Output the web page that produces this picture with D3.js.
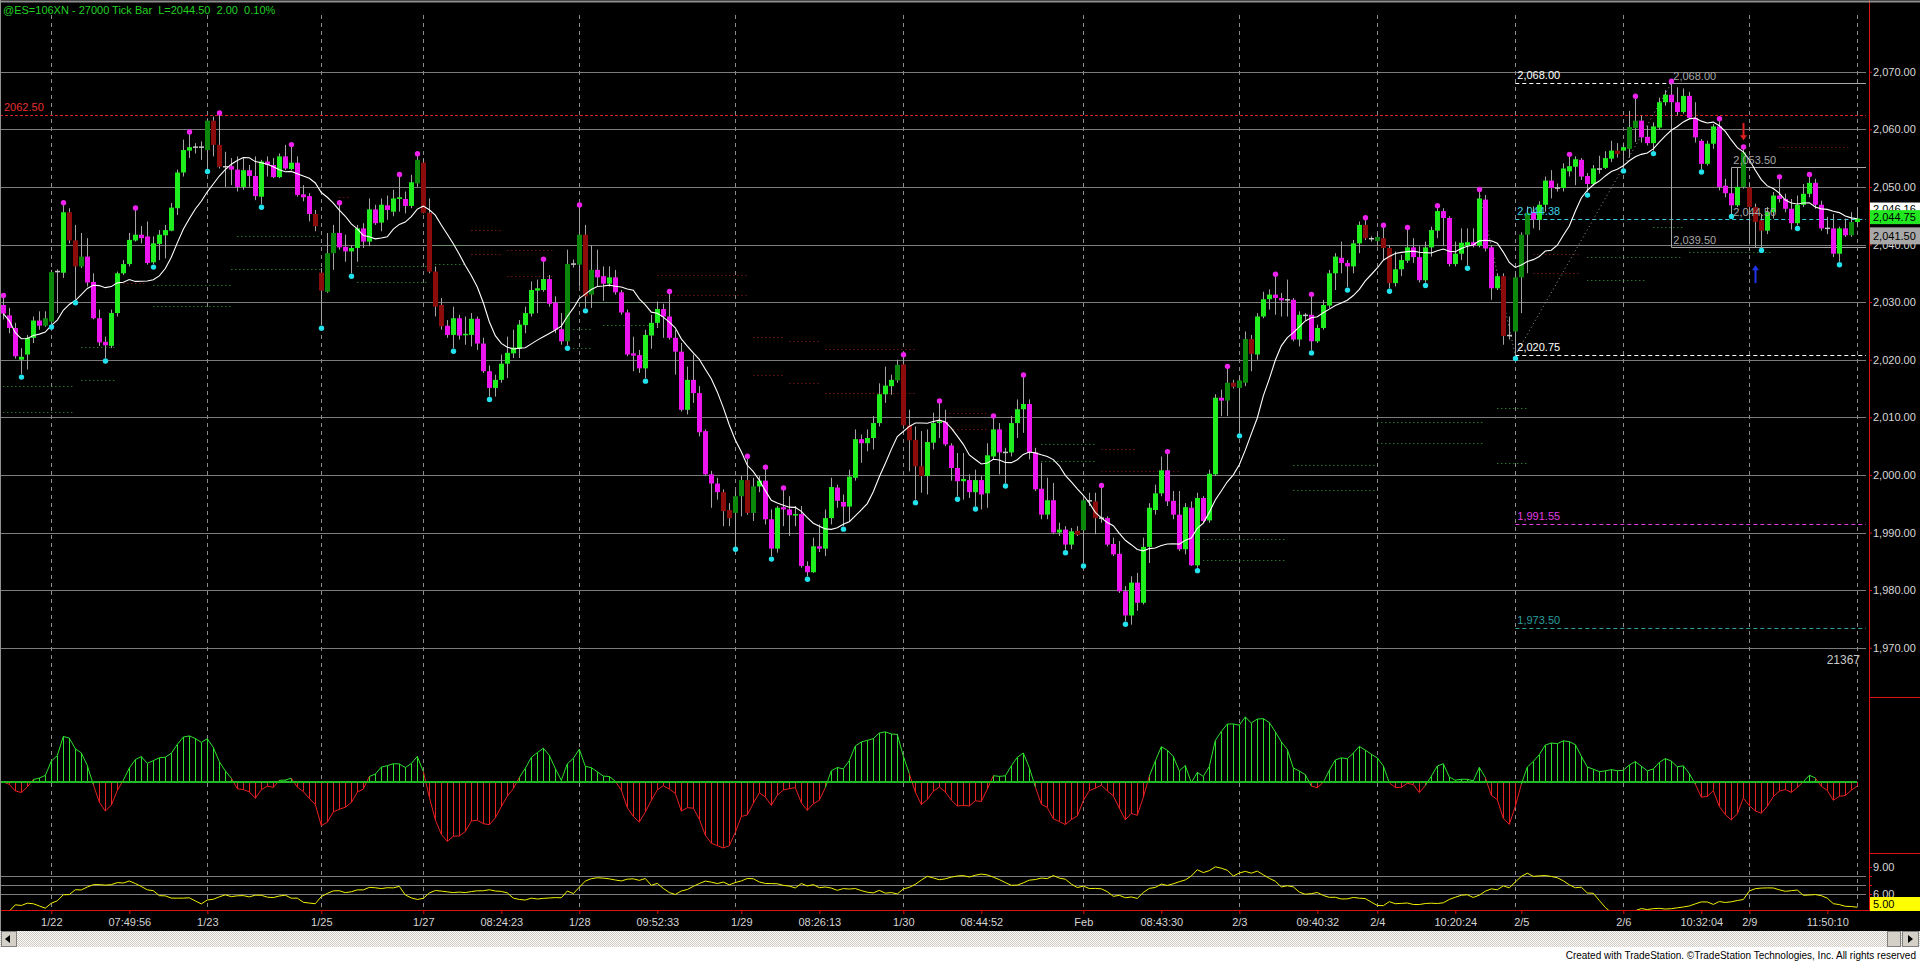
<!DOCTYPE html>
<html>
<head>
<meta charset="utf-8">
<script src="https://cdn.jsdelivr.net/npm/d3@7"></script>
<style>
html, body { margin: 0; padding: 0; background: #fff; overflow: hidden; }
svg { display: block; font-family: "Liberation Sans", Arial, sans-serif; }
</style>
</head>
<body>
<div id="chart"></div>
<script>
// 27000 tick bars (bar 1 = left edge)
var opens = [
  2029.5,2027.7,2025.5,2020,2020.9,2023.8,2026.8,2025.9,2026.6,2035.3,
  2035.1,2045.6,2040.7,2036.2,2037.9,2033.5,2027.2,2023.1,2022.4,2028.1,
  2035,2036.6,2040.7,2041.7,2041.4,2036.9,2040.1,2041.6,2042.4,2046.3,
  2052.5,2056.3,2056.9,2056.9,2056.4,2061.5,2057.3,2053.5,2053.6,2053,
  2050,2052.9,2051.9,2048.3,2054.4,2053.8,2051.7,2055.3,2053.1,2054.2,
  2048.7,2048.4,2045.3,2035.1,2031.8,2038.5,2042,2039.6,2038.8,2039.4,
  2042.8,2040.5,2046.1,2043.8,2046.8,2045.7,2047.9,2047.9,2046.7,2050.6,
  2054.2,2045.5,2035.3,2029.5,2025.9,2024.3,2027.2,2024.3,2024.3,2027.1,
  2022.8,2018,2015.1,2016.5,2019.3,2021.1,2021.9,2026,2028,2032,
  2032.1,2034,2029.9,2025.3,2023.2,2036.6,2036.5,2041.7,2031.3,2035.6,
  2034.5,2033.2,2034.3,2031.7,2028.2,2021.1,2020.8,2018.5,2024.2,2026.4,
  2028.8,2027.5,2023.8,2021.4,2011.3,2016.5,2014.2,2007.6,2000.1,1998.5,
  1997,1993.9,1993.4,1996.3,1999.1,1993.4,1998,1999,1992.3,1987.2,
  1994.4,1994,1993,1993.2,1984.2,1983.1,1987.6,1987.2,1992.5,1997.8,
  1995.3,1994.5,1999.5,2006.2,2005.5,2006.4,2009,2014,2015.4,2016.4,
  2019.2,2008.6,2006.1,2001.5,1999.8,2005.6,2009,2009.2,2005.1,2001.2,
  1998.9,1999.1,1997,1999.1,1996.8,2003.2,2007.9,2003.9,2003.9,2009,
  2011.4,2012.3,2003.9,1997.6,1993.1,1995.6,1990,1990.5,1987.9,1990.3,
  1990.4,1995.5,1995.4,1992.5,1992.5,1988,1986.3,1979.8,1975.6,1981.3,
  1977.8,1987.5,1993.9,1996.8,2000.8,1995.5,1993.1,1987.1,1994.3,1984.3,
  1996,1992.1,2000.1,2013.4,2012.9,2016,2015.1,2016,2023.6,2020.9,
  2027.5,2030.5,2031.3,2030.7,2030.4,2030.4,2023.5,2027.7,2027.8,2023.2,
  2025.5,2029.4,2035,2037.7,2036.8,2036.2,2040.2,2043.4,2041,2040.6,
  2041.1,2039.4,2033.3,2035.7,2037.2,2039.5,2037.8,2033.8,2039.5,2042.4,
  2045.8,2044.6,2036.6,2038.4,2039.8,2040.4,2039.8,2047.8,2039.5,2032.4,
  2034.5,2024.2,2024.9,2034.3,2041.7,2045.7,2044.3,2046.9,2051.1,2049.8,
  2049.8,2052.7,2053.5,2054.7,2051.9,2050.5,2053.1,2053.3,2054.9,2056.3,
  2056.3,2056.6,2060.2,2061.5,2058.7,2057.6,2060.3,2064.7,2066,2064.7,
  2063,2065.8,2062,2058,2054,2057.5,2060.5,2050.2,2048.9,2046.8,
  2050,2049.9,2046.5,2044.2,2042.4,2045.6,2048.5,2047.9,2046.2,2043.7,
  2046.9,2048.8,2050.7,2046.9,2042.8,2042.8,2038.4,2042.8,2041.6,2043.9
];
var highs = [
  2030.8,2029,2026.4,2022,2024.3,2027.5,2028.4,2028.4,2035.6,2035.7,
  2046.9,2046.3,2043.4,2042,2041.1,2035,2028.7,2024,2028.7,2035.3,
  2037.3,2042,2046,2043.2,2044,2041.4,2042.5,2043.4,2047.2,2053,
  2058.2,2059.2,2057.6,2057.9,2061.9,2062.2,2062.5,2056.1,2055,2055.3,
  2055,2053.8,2055.3,2054.7,2055.3,2055,2055.8,2057.3,2057,2055.3,
  2050.3,2048.9,2046,2035.9,2042,2043.4,2046.9,2041.7,2039.9,2043.4,
  2043.7,2048,2046.9,2048,2048.5,2049.5,2051.8,2049.2,2052.1,2055.4,
  2055,2048,2036.2,2030.7,2026.9,2029.2,2027.8,2027.5,2028.1,2027.5,
  2023.8,2019,2017.4,2020.9,2024,2025.2,2026.9,2029.2,2033.6,2033.9,
  2037.1,2034.7,2031,2028.1,2039.1,2037.4,2046.5,2043.4,2039.9,2039.1,
  2036.2,2036.2,2035.6,2032.1,2028.7,2024,2021.7,2025.2,2027.8,2030.1,
  2029.7,2031.5,2025.2,2022.9,2018.8,2020.9,2015.4,2007.9,2000.7,1999.5,
  1997.5,1995.1,1997.2,1999.8,2002.9,1999.5,1999.8,2001,1994,1994.6,
  1997.4,1996.3,1994.6,1994.6,1985,1989.1,1991.4,1994,1999.5,1998.3,
  1996.6,2000.9,2007.9,2007,2007.9,2010.2,2015.9,2018.8,2017.4,2020,
  2020.5,2011.3,2008.4,2007.6,2007.9,2010.8,2012.5,2011.3,2005.5,2003.8,
  2003.8,2000.1,2000.9,1999.8,2005.5,2009.9,2009,2004.7,2010.2,2013.1,
  2017,2013.1,2004.7,2002.1,1999.5,1998.6,1991.7,1991.1,1990.8,1991.1,
  1995.9,1996.9,1996.9,1997.8,1992.8,1989.1,1988.5,1980.7,1982.4,1983,
  1989.1,1995.1,1998.3,2003.2,2003.7,1997.2,1997.2,1995.1,1995.4,1996.9,
  1996.3,2000.9,2014,2014.8,2018.5,2016.5,2017.1,2024.9,2024.3,2028.1,
  2031.8,2032.2,2034.5,2031.6,2033.9,2030.7,2028.4,2028.1,2031,2026.1,
  2030.4,2035.6,2038.5,2040.5,2037.3,2040.8,2044,2044.3,2041.4,2042,
  2043,2039.9,2038.8,2038.2,2042.6,2041.1,2039.7,2040.5,2043.1,2046.4,
  2046.3,2044.9,2040.5,2042.8,2042.8,2042.8,2049.2,2048.6,2039.9,2035,
  2035,2027.5,2035,2042.1,2046.6,2046.6,2047.5,2051.8,2052.9,2050.6,
  2054.1,2055.3,2055.3,2055,2052.4,2053.8,2055.4,2056.2,2058,2057.6,
  2057.7,2063.2,2065.4,2062.4,2060.6,2061.2,2065.5,2066.8,2068,2067.3,
  2067.1,2066.5,2064.7,2058.3,2058,2060.9,2061.5,2051.4,2049.9,2053.4,
  2056.6,2050.8,2047.1,2045.3,2046.5,2049.1,2051.4,2048.8,2047.9,2048.5,
  2050.5,2051.8,2051.4,2047.6,2044.8,2045.3,2043.1,2044.5,2045.6,2046.5
];
var lows = [
  2027,2024.6,2020.2,2017.5,2018.3,2022.9,2025.2,2025.7,2026.2,2028.1,
  2034.2,2040.2,2030.4,2035.9,2032.7,2027,2022.4,2020.3,2022,2027.5,
  2034.7,2036.2,2040.5,2040.2,2036.5,2036.6,2037.3,2037.6,2042.3,2045.1,
  2051.8,2055,2055.8,2054.7,2053.2,2055.3,2053.2,2050,2050.3,2049.2,
  2049.5,2050,2047.7,2047,2051.8,2051.5,2051.5,2052.9,2052.9,2048.3,
  2047.5,2044,2042.3,2026,2031.6,2035.6,2039.1,2037,2035,2037,
  2039.4,2039.7,2043.4,2042.3,2044.3,2044.9,2045.7,2045.4,2046.3,2050,
  2045.4,2035,2027.5,2025.2,2023.8,2022,2023.5,2022.6,2022.3,2021.7,
  2017.7,2013.6,2013.6,2016,2016.8,2020.3,2020.3,2024.6,2027.5,2028.1,
  2031.8,2029.2,2024.6,2022.6,2022.5,2036,2032.7,2029,2029,2032.7,
  2030.2,2032.7,2031.3,2027.8,2020.6,2018,2017.7,2016.8,2021.9,2025.5,
  2023.8,2023.5,2017.4,2011,2010.5,2012.5,2006.7,1999.8,1994.3,1995.7,
  1991.1,1991.1,1987.6,1992.8,1993.1,1992,1997,1991.4,1985.9,1986.5,
  1991.1,1989.4,1991.1,1983.9,1982.4,1983,1986.6,1985.9,1991.4,1994.3,
  1991.1,1992,1999,2002.1,2004.1,2004.4,2008.4,2012.5,2013.9,2016,
  2008,2000.6,1995.7,1996.9,1996.6,2004.4,2006.4,2005,1999,1996.3,
  1995.7,1996,1994.6,1994,1994.3,2002.7,2000.1,1998.6,2003.2,2006.4,
  2007.3,2002.7,1997.2,1992.3,1992.3,1989.7,1989.4,1987,1987.1,1989.4,
  1984.7,1994.6,1989.7,1991.7,1987.6,1985.9,1979.5,1974.6,1974,1976.4,
  1977.5,1984.7,1993.1,1996.3,1994.6,1992.3,1986.8,1986.2,1984.2,1983.9,
  1991.7,1991.7,1999.8,2010.2,2010.2,2015,2007.3,2015.4,2018,2020,
  2027.2,2028.7,2027.8,2027.5,2027.5,2023.2,2022.3,2026.9,2021.7,2022.9,
  2025.2,2029,2032.1,2035,2032.6,2035,2038.5,2040.8,2040.5,2039.7,
  2037.3,2032.4,2032.7,2034.5,2036.8,2036.8,2033.4,2033.4,2037.9,2041.1,
  2039.7,2036.2,2036.2,2037.3,2036.4,2039.5,2039.5,2038.8,2030.4,2032.1,
  2022.6,2023.5,2020.75,2028.1,2035,2042.8,2042.5,2045.7,2048,2049.2,
  2049.2,2051.8,2050.3,2051.2,2049.1,2050.2,2052.3,2053.1,2054.3,2055.1,
  2053.3,2055.1,2057.8,2057.7,2057.2,2056.3,2060,2064.1,2064.1,2062.4,
  2062.7,2061.8,2057.7,2053.1,2053.7,2056.6,2049.4,2048.2,2045.4,2046.5,
  2049.7,2040,2039.5,2039.5,2041.8,2044.5,2047.3,2045.6,2042.6,2043.3,
  2046.5,2048.2,2046.2,2042.4,2041.8,2037.8,2037,2041.3,2041.3,2043
];
var closes = [
  2028,2025.5,2020.6,2020.5,2023.8,2026.8,2025.9,2027.2,2035.2,2035.3,
  2045.6,2040.7,2036.2,2037.9,2033.4,2027.2,2023,2022.5,2028.1,2035,
  2036.6,2040.8,2041.7,2041.1,2036.8,2040.2,2041.7,2042.5,2046.4,2052.5,
  2056.4,2056.9,2056.9,2056.9,2061.5,2057.3,2053.5,2053.5,2053,2050,
  2052.9,2051.9,2048.4,2054.4,2053.8,2051.7,2055.3,2053.2,2054.2,2048.6,
  2048.2,2045.3,2043.2,2032,2038.5,2042,2039.5,2038.8,2039.4,2042.8,
  2040.5,2046.1,2043.7,2046.9,2046,2048,2048.2,2046.7,2050.8,2054.7,
  2045.5,2035.3,2029.2,2025.8,2024.3,2027.2,2024.2,2024.5,2027.1,2022.8,
  2018,2015.1,2016.5,2019.3,2021.2,2022.1,2026.1,2028.1,2032.1,2032.4,
  2034,2029.7,2025.2,2023.2,2036.6,2036.6,2041.7,2031,2035.6,2034.3,
  2033.2,2034.3,2031.7,2028.2,2020.9,2020.7,2018.5,2024.3,2026.4,2028.8,
  2027.5,2023.8,2021.4,2011.3,2016.5,2014.2,2007.4,2000.1,1998.5,1997,
  1993.7,1992.5,1996.3,1999.1,1993.4,1998,1999,1992.3,1987.2,1994.3,
  1994,1993,1993.2,1984.2,1983.1,1987.6,1987.2,1992.5,1997.9,1995.5,
  1994.5,1999.7,2006.2,2005.5,2006.4,2009,2014,2015.5,2016.5,2019.1,
  2008.6,2006,2001.5,1999.8,2005.7,2009,2009.3,2005.3,2001.2,1998.9,
  1999.3,1997,1999.1,1996.6,2003.4,2007.9,2003.9,2003.9,2009,2011.4,
  2012.3,2003.9,1997.5,1993.1,1995.6,1990,1990.5,1987.9,1990.2,1989.6,
  1995.6,1995.5,1992.5,1992.5,1987.9,1986.2,1979.8,1975.6,1981.3,1977.8,
  1987.5,1994.3,1996.8,2000.8,1995.4,1993.1,1987.1,1994.4,1984.3,1996,
  1992,2000.2,2013.4,2012.9,2016,2015.3,2016.4,2023.6,2021,2027.5,
  2030.5,2031.3,2030.7,2030.3,2030.4,2023.5,2027.8,2027.7,2023.2,2025.5,
  2029.5,2035,2037.9,2036.8,2036.2,2040.2,2043.4,2041.1,2041,2041.3,
  2039.4,2033.3,2035.7,2037.3,2039.5,2037.8,2033.8,2039.5,2042.5,2045.8,
  2044.6,2036.6,2038.4,2040.3,2040.4,2039.8,2048,2039.3,2032.4,2034.5,
  2024.1,2024.2,2034.3,2041.7,2045.5,2044.3,2046.9,2051.1,2049.8,2049.8,
  2053.2,2053.6,2054.8,2051.8,2050.5,2053.2,2053.1,2055,2056.3,2055.7,
  2056.9,2060.4,2061.5,2058.6,2057.6,2060.5,2064.7,2066,2064.7,2063,
  2065.8,2062,2058.6,2054,2057.5,2060.5,2050,2048.9,2046.8,2050,
  2056,2046.5,2043.9,2042.4,2045.6,2048.5,2047.9,2046.2,2043.7,2046.9,
  2048.8,2050.7,2046.9,2042.8,2042.8,2038.4,2042.8,2041.6,2043.9,2044.5
];
// paint-bar colour code: G bright green, g dark green, M magenta, r dark red, d doji
var tones = (
  'MMMGGGMggd' + 'GrrgMMMMGG' + 'GGGMMGGGGG' + 'GGddgrrdMM' + 'GMMGMMGMGM' +
  'MMrrggMMGG' + 'MGMGMGGMGg' + 'rrrrMGMGGM' + 'MMGGGGGGGG' + 'GMMMgdgrgM' +
  'MGMMMMMGGG' + 'MMMMGMMMMM' + 'rrggrgGMMG' + 'MMGMMGMGGM' + 'MGGMGGGGGg' +
  'rrrrGGGMMM' + 'GMGMGGMdGG' + 'GMMMGMGMGr' + 'gdrdMMMMGM' + 'GGGGMMMGMG' +
  'MGGMgrggrG' + 'GGMMdMGdMG' + 'GGGMMGGrdg' + 'rrGGGMMGGG' + 'MMGGGMGMMG' +
  'rdgggMGGMd' + 'GGGMMGdGGr' + 'GggMMGGGMM' + 'GMMMGGMMMG' + 'grrrGGMMMG' +
  'GGMMdMGMgG').split('');

var swingHighIdx = [0,10,22,31,36,48,56,66,69,90,96,111,124,127,130,150,156,165,170,183,194,204,212,218,227,230,234,239,246,261,272,278,286,290,296,301];
var swingLowIdx = [3,8,12,17,25,34,43,53,58,75,81,94,97,107,122,128,134,140,152,159,162,167,177,180,187,199,206,218,224,231,237,244,252,264,270,275,283,288,293,299,306];

// dotted support / resistance stubs
var srPrice = [2041.4,2035.8,2032.9,2033.3,2029.4,2022.2,2016.5,2015.4,2011,2048.3,2036.3,2033.5,2040,2036.7,2042.5,2038.4,2039,2034.5,2030,2026,2025.3,2022,2034.7,2031.3,2024,2017.4,2023.3,2016,2021.9,2014.2,2010.8,2008,2005.3,2002.4,2004.5,2000.6,1988.9,1985.2,2001.7,1997.4,2009.2,2005.6,2011.6,2002,2038.3,2035,2037.9,2033.8,2043,2038.7,2056.9];
var srFrom = [39,38,25,20,25,13,13,0,0,56,59,59,72,72,78,78,84,84,96,100,95,95,109,109,125,125,131,131,137,137,157,157,173,173,183,183,200,200,215,215,229,229,249,249,255,255,264,264,275,281,296];
var srTo = [53,53,38,24,38,19,19,12,12,58,71,71,77,77,83,83,92,92,108,108,98,98,124,124,130,130,136,136,152,152,164,164,182,182,189,196,214,214,229,229,247,247,254,254,263,263,280,274,280,295,308];
var srTone = ['g','g','g','r','g','g','g','g','g','r','g','g','g','g','r','r','r','r','g','g','g','g','r','r','r','r','r','r','r','r','r','r','g','g','r','r','g','g','g','g','g','g','g','g','r','r','g','g','g','g','r'];

// horizontal study levels drawn from the 2/5 low
var levelPrice = [2068, 2044.38, 2020.75, 1991.55, 1973.50];
var levelText = ['2,068.00', '2,044.38', '2,020.75', '1,991.55', '1,973.50'];
var levelColor = ['#ffffff', '#3cd0e0', '#ffffff', '#e03ce0', '#2a9e9e'];

var tickLabels = ['1/22','07:49:56','1/23','1/25','1/27','08:24:23','1/28','09:52:33','1/29','08:26:13','1/30','08:44:52','Feb','08:43:30','2/3','09:40:32','2/4','10:20:24','2/5','2/6','10:32:04','2/9','11:50:10'];
var tickIdx = [8,21,34,53,70,83,96,109,123,136,150,163,180,193,206,219,229,242,253,270,283,291,304];
var dayLineIdx = [8,34,53,70,96,122,150,180,206,229,252,270,291,309];
var priceTicks = [1970,1980,1990,2000,2010,2020,2030,2040,2050,2060,2070];

var W = 1920, H = 962;
var plotRight = 1866, axisX = 1869;
var tone = { G: '#1eee1e', g: '#0b880b', M: '#ee16ee', r: '#8c0c0c', d: '#c8c8c8' };

var svg = d3.select('#chart')
    .append('svg')
    .attr('width', W)
    .attr('height', H);

svg.append('rect').attr('width', W).attr('height', 931).attr('fill', '#000');
svg.append('rect').attr('y', 947).attr('width', W).attr('height', 15).attr('fill', '#fff');

var defs = svg.append('defs');
defs.append('clipPath').attr('id', 'plotclip')
    .append('rect').attr('x', 0).attr('y', 0).attr('width', plotRight).attr('height', 910);
var pat = defs.append('pattern').attr('id', 'chk').attr('width', 2).attr('height', 2)
    .attr('patternUnits', 'userSpaceOnUse');
pat.append('rect').attr('width', 2).attr('height', 2).attr('fill', '#fbfbfb');
pat.append('rect').attr('width', 1).attr('height', 1).attr('fill', '#d0ccc4');
pat.append('rect').attr('x', 1).attr('y', 1).attr('width', 1).attr('height', 1).attr('fill', '#d0ccc4');

// scales
var x = d3.scaleLinear().domain([0, opens.length - 1]).range([3.3, 1857.3]);
var y = d3.scaleLinear().domain([1970, 2070]).range([647.7, 71.7]);
var yOsc = d3.scaleLinear().domain([-20, 20]).range([858, 706]);
var yVol = d3.scaleLinear().domain([6, 9]).range([894, 867]);
var px = function(i) { return Math.round(x(i)) + 0.5; };

// studies derived from the bars
var ma = closes.map(function(c, i) {
    return d3.mean(closes.slice(Math.max(0, i - 11), i + 1));
});
var osc = [];
closes.forEach(function(c, i) {
    var v = c - ma[i];
    osc.push(i ? osc[i - 1] + 0.5 * (v - osc[i - 1]) : v);
});
var tr = highs.map(function(h, i) {
    var pc = i ? closes[i - 1] : opens[0];
    return Math.max(h, pc) - Math.min(lows[i], pc);
});
var atr = tr.map(function(t, i) {
    return d3.mean(tr.slice(Math.max(0, i - 13), i + 1));
});

var plot = svg.append('g').attr('clip-path', 'url(#plotclip)');

// grid
plot.selectAll('.hgrid').data(priceTicks).enter().append('line')
    .attr('x1', 0).attr('x2', plotRight)
    .attr('y1', function(d) { return Math.round(y(d)) + 0.5; })
    .attr('y2', function(d) { return Math.round(y(d)) + 0.5; })
    .attr('stroke', '#7c7c7c');
plot.selectAll('.vgrid').data([8, 7, 6]).enter().append('line')
    .attr('x1', 0).attr('x2', plotRight)
    .attr('y1', function(d) { return Math.round(yVol(d)) + 0.5; })
    .attr('y2', function(d) { return Math.round(yVol(d)) + 0.5; })
    .attr('stroke', '#7c7c7c');
plot.selectAll('.dgrid').data(dayLineIdx).enter().append('line')
    .attr('x1', px).attr('x2', px)
    .attr('y1', 15).attr('y2', 910)
    .attr('stroke', '#8a8a8a').attr('stroke-dasharray', '4,4');

// 2062.50 level
plot.append('line')
    .attr('x1', 0).attr('x2', plotRight)
    .attr('y1', Math.round(y(2062.5)) + 0.5).attr('y2', Math.round(y(2062.5)) + 0.5)
    .attr('stroke', '#e02020').attr('stroke-dasharray', '3,2');
svg.append('text').attr('x', 4).attr('y', y(2062.5) - 4)
    .attr('fill', '#e83030').attr('font-size', 11).text('2062.50');

// dotted support / resistance
plot.selectAll('.sr').data(srPrice).enter().append('line')
    .attr('x1', function(d, i) { return x(srFrom[i]); })
    .attr('x2', function(d, i) { return x(srTo[i]); })
    .attr('y1', function(d) { return Math.round(y(d)) + 0.5; })
    .attr('y2', function(d) { return Math.round(y(d)) + 0.5; })
    .attr('stroke', function(d, i) { return srTone[i] === 'g' ? '#3aa83a' : '#a01c1c'; })
    .attr('stroke-dasharray', '1,3');

// study levels from the 2/5 low
plot.selectAll('.lvl').data(levelPrice).enter().append('line')
    .attr('x1', x(252))
    .attr('x2', function(d, i) { return i === 0 ? x(278) : plotRight; })
    .attr('y1', function(d) { return Math.round(y(d)) + 0.5; })
    .attr('y2', function(d) { return Math.round(y(d)) + 0.5; })
    .attr('stroke', function(d, i) { return levelColor[i]; })
    .attr('stroke-dasharray', '4,3');
svg.selectAll('.lvlt').data(levelPrice).enter().append('text')
    .attr('x', x(252) + 2)
    .attr('y', function(d) { return y(d) - 4; })
    .attr('fill', function(d, i) { return levelColor[i]; })
    .attr('font-size', 11)
    .text(function(d, i) { return levelText[i]; });

// measured swing box (high 2068 / low 2039.50) and retrace marker
var grey = '#a8a8a8';
plot.append('path')
    .attr('d', 'M' + plotRight + ',' + (Math.round(y(2068)) + 0.5) +
               'H' + px(278) + 'V' + (Math.round(y(2039.5)) + 0.5) + 'H' + plotRight)
    .attr('fill', 'none').attr('stroke', grey);
plot.append('path')
    .attr('d', 'M' + plotRight + ',' + (Math.round(y(2053.5)) + 0.5) +
               'H' + px(288) + 'V' + y(2044.5))
    .attr('fill', 'none').attr('stroke', grey);
[[278, 2068, '2,068.00'], [278, 2039.5, '2,039.50'], [288, 2053.5, '2,053.50'], [288, 2044.5, '2,044.50']]
    .forEach(function(a) {
        svg.append('text').attr('x', x(a[0]) + 2).attr('y', y(a[1]) - 3)
            .attr('fill', grey).attr('font-size', 11).text(a[2]);
    });
plot.append('line')
    .attr('x1', x(252)).attr('y1', y(2020.75)).attr('x2', x(278)).attr('y2', y(2068))
    .attr('stroke', '#9a9a9a').attr('stroke-dasharray', '1,3');
plot.append('line')
    .attr('x1', x(246)).attr('y1', y(2049.2)).attr('x2', x(252)).attr('y2', y(2020.75))
    .attr('stroke', '#9a9a9a').attr('stroke-dasharray', '1,3');

// candles
var bars = d3.range(opens.length).map(function(i) {
    return { i: i, o: opens[i], h: highs[i], l: lows[i], c: closes[i], t: tones[i] };
});
var gBars = plot.append('g');
gBars.selectAll('.wick').data(bars).enter().append('line')
    .attr('x1', function(d) { return px(d.i); })
    .attr('x2', function(d) { return px(d.i); })
    .attr('y1', function(d) { return y(d.h); })
    .attr('y2', function(d) { return y(d.l); })
    .attr('stroke', '#a4a4a4');
gBars.selectAll('.body').data(bars.filter(function(d) { return d.t !== 'd'; })).enter().append('rect')
    .attr('x', function(d) { return Math.round(x(d.i)) - 2; })
    .attr('width', 5)
    .attr('y', function(d) { return y(Math.max(d.o, d.c)); })
    .attr('height', function(d) { return Math.max(1.5, Math.abs(y(d.o) - y(d.c))); })
    .attr('fill', function(d) { return tone[d.t]; });
gBars.selectAll('.doji').data(bars.filter(function(d) { return d.t === 'd'; })).enter().append('line')
    .attr('x1', function(d) { return Math.round(x(d.i)) - 2; })
    .attr('x2', function(d) { return Math.round(x(d.i)) + 3; })
    .attr('y1', function(d) { return y(d.c); })
    .attr('y2', function(d) { return y(d.c); })
    .attr('stroke', tone.d).attr('stroke-width', 1.5);

// moving average
plot.append('path')
    .datum(ma)
    .attr('d', d3.line().x(function(d, i) { return x(i); }).y(function(d) { return y(d); }))
    .attr('fill', 'none').attr('stroke', '#ffffff').attr('stroke-width', 1.1);

// swing markers
plot.selectAll('.sh').data(swingHighIdx).enter().append('circle')
    .attr('cx', px).attr('cy', function(i) { return y(highs[i]) - 2; })
    .attr('r', 2.7).attr('fill', '#ee22ee');
plot.selectAll('.sl').data(swingLowIdx).enter().append('circle')
    .attr('cx', px).attr('cy', function(i) { return y(lows[i]) + 3; })
    .attr('r', 2.7).attr('fill', '#22e2ee');

// signal arrows
function arrow(i, from, to, col) {
    var xx = px(i), y0 = y(from), y1 = y(to), dir = y1 > y0 ? 1 : -1;
    plot.append('line').attr('x1', xx).attr('x2', xx).attr('y1', y0).attr('y2', y1 - dir * 4)
        .attr('stroke', col).attr('stroke-width', 2);
    plot.append('path')
        .attr('d', 'M' + (xx - 3.5) + ',' + (y1 - dir * 5) + 'L' + (xx + 3.5) + ',' + (y1 - dir * 5) + 'L' + xx + ',' + y1 + 'Z')
        .attr('fill', col);
}
arrow(290, 2061.1, 2058.1, '#e02020');
arrow(292, 2033.3, 2036.4, '#2233ee');

svg.append('text').attr('x', 1860).attr('y', 664).attr('text-anchor', 'end')
    .attr('fill', '#c8c8c8').attr('font-size', 12).text('21367');

// oscillator pane
var gOsc = plot.append('g');
gOsc.selectAll('.oh').data(osc).enter().append('line')
    .attr('x1', function(d, i) { return px(i); })
    .attr('x2', function(d, i) { return px(i); })
    .attr('y1', yOsc(0))
    .attr('y2', function(d) { return yOsc(d); })
    .attr('stroke', function(d) { return d >= 0 ? '#2ee02e' : '#e42020'; });
gOsc.selectAll('.oe').data(osc.slice(1)).enter().append('line')
    .attr('x1', function(d, i) { return x(i); })
    .attr('x2', function(d, i) { return x(i + 1); })
    .attr('y1', function(d, i) { return yOsc(osc[i]); })
    .attr('y2', function(d) { return yOsc(d); })
    .attr('stroke', function(d, i) { return (d + osc[i]) >= 0 ? '#2ee02e' : '#e42020'; });
gOsc.append('line')
    .attr('x1', 0).attr('x2', x(opens.length - 1))
    .attr('y1', yOsc(0)).attr('y2', yOsc(0))
    .attr('stroke', '#22bb22').attr('stroke-width', 2);

// range line pane
plot.append('path')
    .datum(atr)
    .attr('d', d3.line().x(function(d, i) { return x(i); }).y(function(d) { return yVol(d); }))
    .attr('fill', 'none').attr('stroke', '#f0f000').attr('stroke-width', 1);

// frame and axes
svg.append('line').attr('x1', 0).attr('x2', axisX).attr('y1', 910.5).attr('y2', 910.5).attr('stroke', '#e01010');
svg.append('line').attr('x1', axisX + 0.5).attr('x2', axisX + 0.5).attr('y1', 0).attr('y2', 911).attr('stroke', '#e01010');
[697.5, 853.5].forEach(function(v) {
    svg.append('line').attr('x1', axisX).attr('x2', W).attr('y1', v).attr('y2', v).attr('stroke', '#e01010');
});
svg.append('line').attr('x1', 0).attr('x2', W).attr('y1', 1.5).attr('y2', 1.5).attr('stroke', '#909090').attr('stroke-width', 2);
svg.append('line').attr('x1', 0.5).attr('x2', 0.5).attr('y1', 0).attr('y2', 931).attr('stroke', '#909090');

function styleAxis(g, col) {
    g.select('.domain').remove();
    g.selectAll('.tick line').attr('stroke', '#e01010');
    g.selectAll('.tick text').attr('fill', col).attr('font-size', 11)
        .attr('font-family', '"Liberation Sans", Arial, sans-serif');
}
var yAxis = d3.axisRight(y).tickValues(priceTicks).tickSize(3).tickPadding(1).tickFormat(d3.format(',.2f'));
svg.append('g').attr('transform', 'translate(' + axisX + ',0)').call(yAxis).call(styleAxis, '#d8d8d8');

var vAxis = d3.axisRight(yVol).tickValues([9, 8, 7, 6]).tickSize(3).tickPadding(1)
    .tickFormat(function(d) { return (d === 9 || d === 6) ? d3.format('.2f')(d) : ''; });
svg.append('g').attr('transform', 'translate(' + axisX + ',0)').call(vAxis).call(styleAxis, '#d8d8d8');

var xAxis = d3.axisBottom(x).tickValues(tickIdx).tickSize(4).tickPadding(4)
    .tickFormat(function(d, i) { return tickLabels[i]; });
svg.append('g').attr('transform', 'translate(0,910)').call(xAxis).call(styleAxis, '#d4d4d4');

// last value flags on the price axis
var flagPrice = [2046.16, 2044.75, 2041.50];
var flagFill = ['#ffffff', '#22e822', '#a8a8a8'];
var flagH = [13, 14, 17];
flagPrice.forEach(function(p, i) {
    var cy = y(p);
    svg.append('rect').attr('x', axisX + 1).attr('y', cy - flagH[i] / 2)
        .attr('width', W - axisX - 1).attr('height', flagH[i]).attr('fill', flagFill[i]);
    svg.append('text').attr('x', axisX + 4).attr('y', cy + 4)
        .attr('fill', '#000').attr('font-size', 11).text(d3.format(',.2f')(p));
});
svg.append('rect').attr('x', axisX + 1).attr('y', yVol(5) - 6).attr('width', W - axisX - 1).attr('height', 14).attr('fill', '#ffff00');
svg.append('text').attr('x', axisX + 4).attr('y', yVol(5) + 5).attr('fill', '#000').attr('font-size', 11).text('5.00');

// title
svg.append('text').attr('x', 3).attr('y', 14)
    .attr('fill', '#22d022').attr('font-size', 11)
    .style('white-space', 'pre')
    .text('@ES=106XN - 27000 Tick Bar  L=2044.50  2.00  0.10%');

// scrollbar and credit line
svg.append('rect').attr('x', 0).attr('y', 931).attr('width', W).attr('height', 16).attr('fill', 'url(#chk)');
[[1, 16], [1887, 14], [1902, 17]].forEach(function(b) {
    svg.append('rect').attr('x', b[0] + 0.5).attr('y', 931.5).attr('width', b[1] - 1).attr('height', 15)
        .attr('fill', '#d4d0c8').attr('stroke', '#808080');
});
svg.append('path').attr('d', 'M5,939L10,935L10,943Z').attr('fill', '#000');
svg.append('path').attr('d', 'M1913,939L1908,935L1908,943Z').attr('fill', '#000');
svg.append('text').attr('x', 1916).attr('y', 959).attr('text-anchor', 'end')
    .attr('fill', '#000').attr('font-size', 10)
    .text('Created with TradeStation. \u00A9TradeStation Technologies, Inc. All rights reserved');
</script>
</body>
</html>
